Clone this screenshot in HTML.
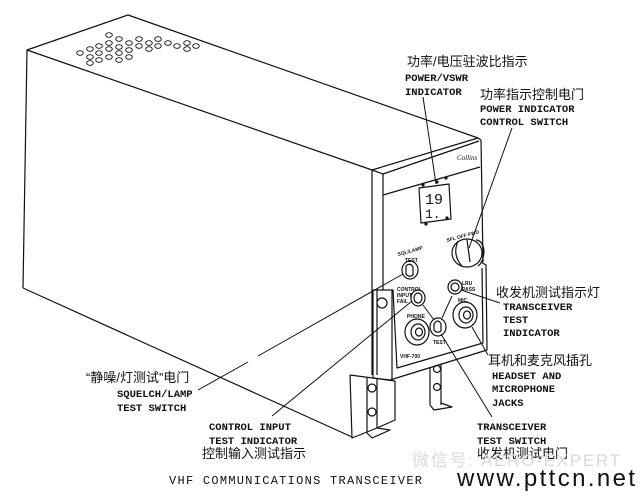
<!DOCTYPE html>
<html><head><meta charset="utf-8"><style>
html,body{margin:0;padding:0;background:#fff;}
svg{display:block;}
.m{font-family:"Liberation Mono","Noto Sans CJK SC",monospace;font-weight:bold;font-size:10.5px;fill:#111;}
.c{font-family:"Liberation Sans","Noto Sans CJK SC",sans-serif;font-size:13px;fill:#111;}
.t{font-family:"Liberation Sans",sans-serif;font-size:5px;fill:#111;font-weight:bold;}
</style></head><body>
<svg width="640" height="496" viewBox="0 0 640 496" xmlns="http://www.w3.org/2000/svg">
<g fill="none" stroke="#111" stroke-width="1.2" stroke-linejoin="round">
<polyline points="23,288 27,50 128,15 478,138"/>
<line x1="27" y1="50" x2="372" y2="170"/>
<line x1="23" y1="288" x2="352" y2="437"/>
<polyline points="372,375 372,170 478,138 481,140"/>
<line x1="383" y1="174" x2="479" y2="141"/>
<line x1="383" y1="174" x2="383" y2="290"/>
<line x1="372" y1="170" x2="383" y2="174"/>
<line x1="383" y1="195" x2="480" y2="167"/>
<line x1="481" y1="140" x2="483" y2="262"/>
<path d="M419,188 L449,184 L451,219 L421,223 Z"/>
<ellipse cx="467" cy="253" rx="15" ry="14"/>
<path d="M458,241 Q452,255 462,266"/>
<line x1="467" y1="240" x2="470" y2="262"/>
<path d="M476,240 Q482,240 484,250 Q484,262 478,266"/>
<polyline points="373,290 393,290 397,368 483,343 482,268"/>
<polyline points="373,290 373,378 390,380 487,350 486,265 481,262"/>
<circle cx="382" cy="303" r="5"/>
<line x1="377" y1="290" x2="377" y2="375"/>
<line x1="392" y1="290" x2="392" y2="380"/>
<ellipse cx="410" cy="270" rx="8" ry="9"/>
<path d="M406,266 Q410,262 413,267 L413,275 Q409,278 406,274 Z"/>
<ellipse cx="418" cy="298" rx="7" ry="8"/>
<ellipse cx="418" cy="298" rx="4" ry="5"/>
<ellipse cx="455" cy="287" rx="7" ry="7"/>
<ellipse cx="455" cy="287" rx="4" ry="4"/>
<ellipse cx="465" cy="315" rx="12" ry="13"/>
<ellipse cx="466" cy="315" rx="7" ry="8"/>
<ellipse cx="467" cy="315" rx="3.5" ry="4"/>
<ellipse cx="417" cy="332" rx="12" ry="13"/>
<ellipse cx="418" cy="332" rx="7" ry="8"/>
<ellipse cx="419" cy="332" rx="3.5" ry="4"/>
<ellipse cx="438" cy="327" rx="8" ry="9"/>
<path d="M434,324 Q438,318 441,324 L441,331 Q437,334 434,330 Z"/>
<polyline points="350,375 395,381 395,420 377,428 352,438 350,375"/>
<line x1="367" y1="378" x2="367" y2="433"/>
<line x1="377" y1="379" x2="377" y2="428"/>
<circle cx="372" cy="388" r="4"/>
<circle cx="372" cy="412" r="4"/>
<polyline points="367,433 372,438 390,430 377,428"/>
<line x1="430" y1="368" x2="430" y2="405"/>
<line x1="441" y1="364" x2="441" y2="405"/>
<circle cx="437" cy="369" r="3.5"/>
<circle cx="437" cy="387" r="3.5"/>
<polyline points="430,405 434,410 452,407 441,403"/>
</g>
<g fill="none" stroke="#111" stroke-width="0.9">
<ellipse cx="80" cy="53" rx="3.3" ry="2.3"/><ellipse cx="90" cy="49" rx="3.3" ry="2.3"/><ellipse cx="90" cy="57" rx="3.3" ry="2.3"/><ellipse cx="90" cy="63" rx="3.3" ry="2.3"/>
<ellipse cx="99" cy="46" rx="3.3" ry="2.3"/><ellipse cx="99" cy="53" rx="3.3" ry="2.3"/><ellipse cx="99" cy="60" rx="3.3" ry="2.3"/>
<ellipse cx="109" cy="35" rx="3.3" ry="2.3"/><ellipse cx="109" cy="43" rx="3.3" ry="2.3"/><ellipse cx="109" cy="49" rx="3.3" ry="2.3"/><ellipse cx="109" cy="57" rx="3.3" ry="2.3"/>
<ellipse cx="119" cy="39" rx="3.3" ry="2.3"/><ellipse cx="119" cy="47" rx="3.3" ry="2.3"/><ellipse cx="119" cy="53" rx="3.3" ry="2.3"/><ellipse cx="119" cy="60" rx="3.3" ry="2.3"/>
<ellipse cx="129" cy="43" rx="3.3" ry="2.3"/><ellipse cx="129" cy="50" rx="3.3" ry="2.3"/><ellipse cx="129" cy="57" rx="3.3" ry="2.3"/>
<ellipse cx="139" cy="39" rx="3.3" ry="2.3"/><ellipse cx="139" cy="46" rx="3.3" ry="2.3"/>
<ellipse cx="149" cy="43" rx="3.3" ry="2.3"/><ellipse cx="149" cy="49" rx="3.3" ry="2.3"/>
<ellipse cx="158" cy="39" rx="3.3" ry="2.3"/><ellipse cx="158" cy="46" rx="3.3" ry="2.3"/>
<ellipse cx="168" cy="43" rx="3.3" ry="2.3"/><ellipse cx="177" cy="46" rx="3.3" ry="2.3"/>
<ellipse cx="187" cy="43" rx="3.3" ry="2.3"/><ellipse cx="187" cy="49" rx="3.3" ry="2.3"/><ellipse cx="196" cy="46" rx="3.3" ry="2.3"/>
</g>
<g fill="#111"><circle cx="423" cy="185" r="1.6"/><circle cx="437" cy="182" r="1.6"/><circle cx="446" cy="178" r="1.6"/><circle cx="426" cy="224" r="1.6"/><circle cx="447" cy="218" r="1.6"/></g>
<text x="425" y="204" font-family="Liberation Mono,monospace" font-size="15" fill="#111">19</text>
<text x="425" y="218" font-family="Liberation Mono,monospace" font-size="13" fill="#111">1.</text>
<text x="457" y="160" font-family="Liberation Serif,serif" font-style="italic" font-size="7" fill="#111">Collins</text>
<text class="t" x="398" y="256" transform="rotate(-15 398 256)">SQL/LAMP</text>
<text class="t" x="405" y="262">TEST</text>
<text class="t" x="447" y="242" font-size="4.5" transform="rotate(-15 447 242)">SFL OFF FWD</text>
<text class="t" x="397" y="291">CONTROL</text><text class="t" x="397" y="297">INPUT</text><text class="t" x="397" y="303">FAIL</text>
<text class="t" x="462" y="285">LRU</text><text class="t" x="462" y="291">PASS</text>
<text class="t" x="458" y="302">MIC</text>
<text class="t" x="407" y="318">PHONE</text>
<text class="t" x="433" y="344">TEST</text>
<text class="t" x="400" y="358">VHF-700</text>
<g stroke="#111" stroke-width="1" fill="none">
<line x1="423" y1="97" x2="436" y2="184"/>
<line x1="512" y1="128" x2="469" y2="248"/>
<line x1="500" y1="303" x2="461" y2="290"/>
<line x1="488" y1="355" x2="472" y2="327"/>
<line x1="492" y1="417" x2="441" y2="334"/>
<line x1="442" y1="318" x2="452" y2="296"/>
<line x1="423" y1="305" x2="434" y2="320"/>
<line x1="198" y1="390" x2="248" y2="362"/>
<line x1="258" y1="356" x2="403" y2="274"/>
<line x1="272" y1="416" x2="412" y2="301"/>
</g>
<text class="c" x="407" y="66" font-size="14">功率/电压驻波比指示</text>
<text class="m" x="405" y="81" font-size="11">POWER/VSWR</text>
<text class="m" x="405" y="95" font-size="11">INDICATOR</text>
<text class="c" x="480" y="99">功率指示控制电门</text>
<text class="m" x="480" y="112">POWER INDICATOR</text>
<text class="m" x="480" y="125">CONTROL SWITCH</text>
<text class="c" x="496" y="297">收发机测试指示灯</text>
<text class="m" x="503" y="310">TRANSCEIVER</text>
<text class="m" x="503" y="323">TEST</text>
<text class="m" x="503" y="336">INDICATOR</text>
<text class="c" x="488" y="365">耳机和麦克风插孔</text>
<text class="m" x="492" y="379">HEADSET AND</text>
<text class="m" x="492" y="392">MICROPHONE</text>
<text class="m" x="492" y="406">JACKS</text>
<text class="c" x="86" y="382">“静噪/灯测试”电门</text>
<text class="m" x="117" y="397">SQUELCH/LAMP</text>
<text class="m" x="117" y="411">TEST SWITCH</text>
<text class="m" x="209" y="430">CONTROL INPUT</text>
<text class="m" x="209" y="444">TEST INDICATOR</text>
<text class="c" x="202" y="458">控制输入测试指示</text>
<text class="m" x="477" y="430">TRANSCEIVER</text>
<text class="m" x="477" y="444">TEST SWITCH</text>
<text class="c" x="477" y="458">收发机测试电门</text>
<text x="412" y="466" font-family="Liberation Sans,Noto Sans CJK SC,sans-serif" font-size="17" fill="#dadada" textLength="208">微信号: AERO-EXPERT</text>
<text x="169" y="484" font-family="Liberation Mono,monospace" font-size="12" fill="#111" textLength="253" lengthAdjust="spacing">VHF COMMUNICATIONS TRANSCEIVER</text>
<text x="457" y="486" font-family="Liberation Sans,sans-serif" font-size="24" fill="#111" textLength="178" lengthAdjust="spacing">www.pttcn.net</text>
</svg>
</body></html>
